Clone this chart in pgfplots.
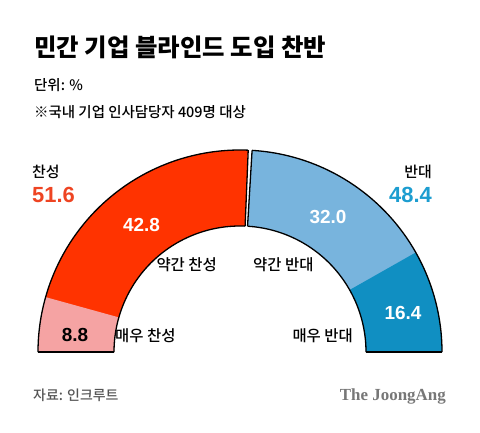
\documentclass[border=0pt]{standalone}
\usepackage{fontspec}
\usepackage{pgfplots}
\usepackage{pgfplotstable}
\pgfplotsset{compat=1.18}
\setmainfont{Noto Sans CJK KR}
\newfontfamily\krmed{Noto Sans CJK KR Medium}
\newfontfamily\krblack{Noto Sans CJK KR Black}
\newfontfamily\num{Liberation Sans}
\newfontfamily\logo{Liberation Serif}
\definecolor{cpink}{HTML}{F5A3A3}
\definecolor{cred}{HTML}{FF3300}
\definecolor{clblue}{HTML}{78B4DD}
\definecolor{cdblue}{HTML}{108FC2}
\definecolor{tred}{HTML}{EE4422}
\definecolor{tblue}{HTML}{1C9DD0}
\definecolor{tgrey}{HTML}{555555}
\definecolor{lgrey}{HTML}{777777}

\pgfplotstableread{
key value
strongyes 8.8
yes 42.8
no 32.0
strongno 16.4
}\survey

\begin{document}%
\begin{tikzpicture}
\pgfplotstablegetelem{0}{value}\of\survey \let\vA\pgfplotsretval
\pgfplotstablegetelem{1}{value}\of\survey \let\vB\pgfplotsretval
\pgfplotstablegetelem{2}{value}\of\survey \let\vC\pgfplotsretval
\pgfplotstablegetelem{3}{value}\of\survey \let\vD\pgfplotsretval
\pgfmathsetmacro\aA{180-1.8*\vA}
\pgfmathsetmacro\aB{180-1.8*(\vA+\vB)}
\pgfmathsetmacro\aC{180-1.8*(\vA+\vB+\vC)}
\pgfmathsetmacro\aBl{\aB+0.55}
\pgfmathsetmacro\aBr{\aB-0.55}
\begin{axis}[width=480bp, height=432bp, scale only axis,
  xmin=0, xmax=480, ymin=0, ymax=432, hide axis, clip=false]
% segments (thick arcs, butt caps)
\addplot[draw=cred, line width=76bp, domain=\aBl:180, samples=120, no marks] ({240+164*cos(x)},{80+164*sin(x)});
\addplot[draw=cpink, line width=76bp, domain=\aA:180, samples=40, no marks] ({240+164*cos(x)},{80+164*sin(x)});
\addplot[draw=clblue, line width=76bp, domain=0:\aBr, samples=120, no marks] ({240+164*cos(x)},{80+164*sin(x)});
\addplot[draw=cdblue, line width=76bp, domain=0:\aC, samples=60, no marks] ({240+164*cos(x)},{80+164*sin(x)});
% outlines
\addplot[black, line width=1.3bp, domain=\aBl:180, samples=150, no marks] ({240+202*cos(x)},{80+202*sin(x)});
\addplot[black, line width=1.3bp, domain=\aBl:180, samples=150, no marks] ({240+126*cos(x)},{80+126*sin(x)});
\addplot[black, line width=1.3bp, domain=0:\aBr, samples=150, no marks] ({240+202*cos(x)},{80+202*sin(x)});
\addplot[black, line width=1.3bp, domain=0:\aBr, samples=150, no marks] ({240+126*cos(x)},{80+126*sin(x)});
\addplot[black, line width=1.3bp, domain=126:202, samples=2, no marks] ({240+x*cos(\aBl)},{80+x*sin(\aBl)});
\addplot[black, line width=1.3bp, domain=126:202, samples=2, no marks] ({240+x*cos(\aBr)},{80+x*sin(\aBr)});
\addplot[black, line width=1.3bp, domain=126:202, samples=2, no marks] ({240-x},{80});
\addplot[black, line width=1.3bp, domain=126:202, samples=2, no marks] ({240+x},{80});
% frame
\path (axis cs:0,0) rectangle (axis cs:480,432);
% titles
\node[anchor=west, inner sep=0pt, font=\fontsize{24.5}{27}\selectfont\krblack] at (axis cs:34,385) {민간 기업 블라인드 도입 찬반};
\node[anchor=west, inner sep=0pt, font=\fontsize{14.5}{16}\selectfont\krmed] at (axis cs:34,347) {단위: \%};
\node[anchor=west, inner sep=0pt, font=\fontsize{14.5}{16}\selectfont\krmed] at (axis cs:34,320) {※국내 기업 인사담당자 409명 대상};
% side totals
\node[anchor=west, inner sep=0pt, font=\fontsize{15}{16}\selectfont\krmed] at (axis cs:32,260) {찬성};
\node[anchor=west, inner sep=0pt, text=tred, font=\fontsize{22}{24}\selectfont\num\bfseries] at (axis cs:32,237) {51.6};
\node[anchor=east, inner sep=0pt, font=\fontsize{15}{16}\selectfont\krmed] at (axis cs:432,260) {반대};
\node[anchor=east, inner sep=0pt, text=tblue, font=\fontsize{22}{24}\selectfont\num\bfseries] at (axis cs:432,237) {48.4};
% segment values
\node[inner sep=0pt, text=white, font=\fontsize{19}{21}\selectfont\num\bfseries] at (axis cs:141.5,207) {42.8};
\node[inner sep=0pt, text=white, font=\fontsize{19}{21}\selectfont\num\bfseries] at (axis cs:328,215) {32.0};
\node[inner sep=0pt, text=white, font=\fontsize{19}{21}\selectfont\num\bfseries] at (axis cs:403,119) {16.4};
\node[inner sep=0pt, text=black, font=\fontsize{19}{21}\selectfont\num\bfseries] at (axis cs:75,97) {8.8};
% segment names
\node[anchor=east, inner sep=0pt, font=\fontsize{15.5}{17}\selectfont\krmed] at (axis cs:217,167) {약간 찬성};
\node[anchor=west, inner sep=0pt, font=\fontsize{15.5}{17}\selectfont\krmed] at (axis cs:253,167) {약간 반대};
\node[anchor=west, inner sep=0pt, font=\fontsize{15.5}{17}\selectfont\krmed] at (axis cs:115,96) {매우 찬성};
\node[anchor=east, inner sep=0pt, font=\fontsize{15.5}{17}\selectfont\krmed] at (axis cs:353,96) {매우 반대};
% footer
\node[anchor=west, inner sep=0pt, text=tgrey, font=\fontsize{14}{15}\selectfont\krmed] at (axis cs:33,37) {자료: 인크루트};
\node[anchor=east, inner sep=0pt, text=lgrey, font=\fontsize{17}{19}\selectfont\logo\bfseries] at (axis cs:446,36) {The JoongAng};
\end{axis}
\end{tikzpicture}%
\end{document}
